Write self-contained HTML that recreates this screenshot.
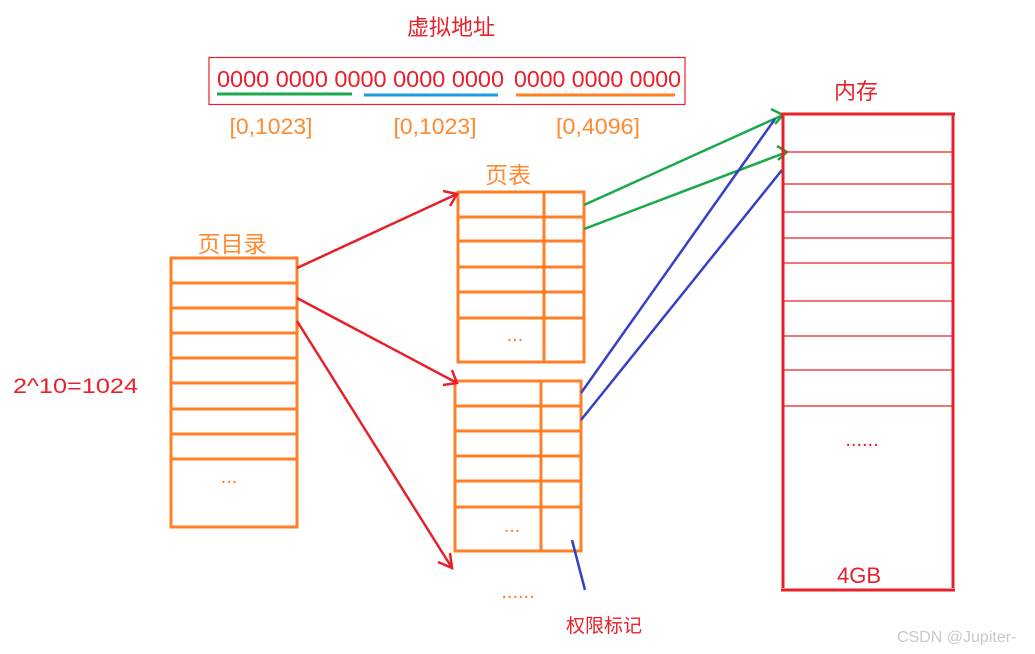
<!DOCTYPE html>
<html><head><meta charset="utf-8"><style>html,body{margin:0;padding:0;background:#fff}svg{display:block}text{font-family:"Liberation Sans","Noto Sans CJK SC",sans-serif}</style></head><body>
<svg width="1035" height="654" viewBox="0 0 1035 654" xmlns="http://www.w3.org/2000/svg">
<text x="451" y="35" font-size="22" fill="#e8202a" text-anchor="middle">虚拟地址</text>
<rect x="209" y="57.5" width="476" height="47" fill="none" stroke="#e8202a" stroke-width="1.2"/>
<text x="217" y="87" font-size="23" fill="#e8202a" textLength="287" lengthAdjust="spacingAndGlyphs">0000 0000 0000 0000 0000</text>
<text x="514" y="87" font-size="23" fill="#e8202a" textLength="167" lengthAdjust="spacingAndGlyphs">0000 0000 0000</text>
<line x1="217" y1="94" x2="352" y2="94" stroke="#1aa84a" stroke-width="3"/>
<line x1="364" y1="95" x2="498" y2="95" stroke="#1a9ee0" stroke-width="3"/>
<line x1="516" y1="95" x2="675" y2="95" stroke="#ff7f27" stroke-width="3"/>
<g font-size="22" fill="#ff8a30" text-anchor="middle">
<text x="271" y="134" textLength="83" lengthAdjust="spacingAndGlyphs">[0,1023]</text><text x="435" y="134" textLength="83" lengthAdjust="spacingAndGlyphs">[0,1023]</text><text x="598" y="134" textLength="84" lengthAdjust="spacingAndGlyphs">[0,4096]</text>
<text x="232" y="252" font-size="23">页目录</text><text x="508" y="183" font-size="23">页表</text></g>
<text x="13" y="393" font-size="21" fill="#e8202a" textLength="125" lengthAdjust="spacingAndGlyphs">2^10=1024</text>
<text x="566" y="632" font-size="19" fill="#e8202a">权限标记</text>
<g fill="none" stroke="#ff7f27" stroke-width="3">
<rect x="171" y="258" width="126" height="269"/>
<path d="M171 283H297M171 308H297M171 333H297M171 358H297M171 383H297M171 409H297M171 434H297M171 459H297"/>
<rect x="458" y="192" width="126" height="170"/>
<path d="M544 192V362M458 217H584M458 241H584M458 267H584M458 292H584M458 318H584"/>
<rect x="455" y="381" width="126" height="170"/>
<path d="M541 381V551M455 406H581M455 431H581M455 456H581M455 481H581M455 507H581"/>
</g>
<g font-size="20" fill="#ff7f27" text-anchor="middle"><text x="229" y="483">...</text><text x="515" y="341">...</text><text x="512" y="532">...</text><text x="518" y="598">......</text></g>
<g fill="none" stroke="#e8202a" stroke-width="2.5">
<path d="M297 268L457 194M443 191L457 194L450 206"/>
<path d="M297 298L457 383M452 370L457 383L443 385"/>
<path d="M297 321L452 568M450 553L452 568L438 562"/>
</g>
<g fill="none" stroke="#1aa84a" stroke-width="2.5">
<path d="M584 205L783 115M771 109L783 115L775 124"/>
<path d="M584 229L787 152M777 146L787 152L778 160"/>
</g>
<g fill="none" stroke="#3540c8" stroke-width="2.5">
<path d="M581 393L775 119M581 420L782 170M572 540L585 590"/>
</g>
<g stroke="#e8202a" fill="none">
<path d="M783 113V588M953 113V588M781 114H955M781 590H955" stroke-width="3"/>
<path d="M783 152H953M783 184H953M783 212H953M783 238H953M783 263H953M783 301H953M783 336H953M783 370H953M783 406H953" stroke-width="1.2"/>
</g>
<text x="856" y="99" font-size="22" fill="#e8202a" text-anchor="middle">内存</text>
<text x="862" y="446" font-size="20" fill="#e8202a" text-anchor="middle">......</text>
<text x="859" y="583" font-size="22" fill="#e8202a" text-anchor="middle">4GB</text>
<text x="897" y="642" font-size="16" fill="#c8c8c8">CSDN @Jupiter-</text>
</svg>
</body></html>
